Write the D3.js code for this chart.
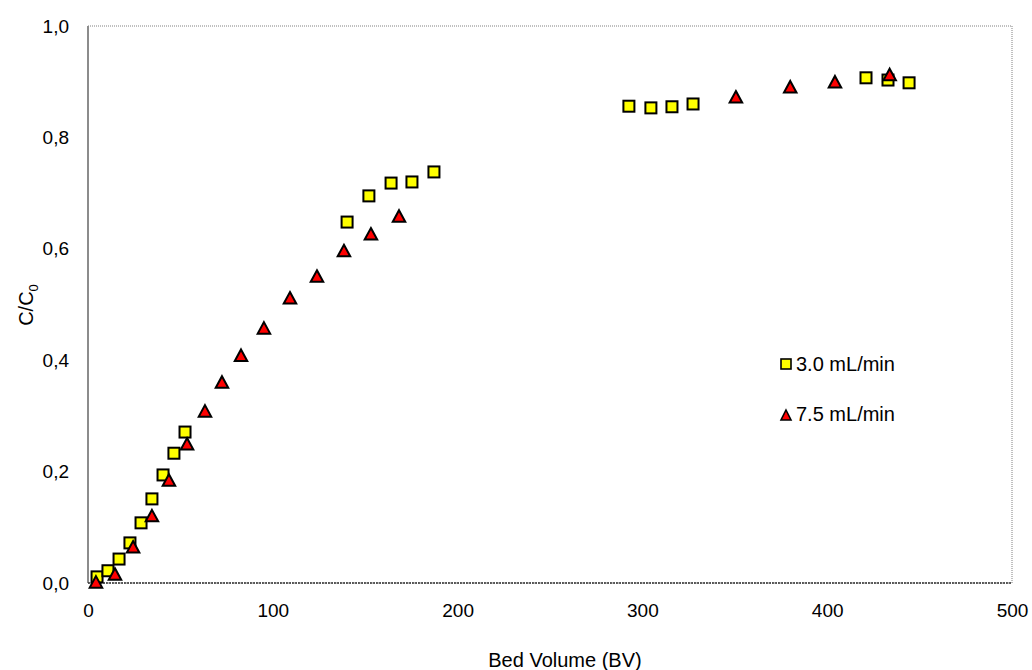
<!DOCTYPE html>
<html>
<head>
<meta charset="utf-8">
<script src="https://cdn.jsdelivr.net/npm/d3@7"></script>
<style>
  body { margin: 0; background: #fff; }
  text { font-family: "Liberation Sans", Arial, sans-serif; fill: #000; }
</style>
</head>
<body>
<svg id="chart"></svg>
<script>
// series 3.0 mL/min (squares)
var bv30 = [4.9, 10.8, 16.8, 22.7, 28.7, 34.6, 40.6, 46.5, 52.5, 140.2, 152, 164, 175.3, 187.2, 292.7, 304.6, 316, 327.4, 421, 432.9, 444.3];
var c30 = [0.011, 0.022, 0.043, 0.072, 0.108, 0.151, 0.194, 0.233, 0.271, 0.648, 0.695, 0.718, 0.720, 0.738, 0.856, 0.853, 0.855, 0.860, 0.907, 0.903, 0.898];
// series 7.5 mL/min (triangles)
var bv75 = [4.3, 14.6, 24.4, 34.6, 43.8, 53.6, 63.3, 72.5, 82.8, 95.2, 109.3, 123.9, 138.5, 153.1, 168.3, 350.6, 380, 404.2, 433.8];
var c75 = [0.002, 0.016, 0.065, 0.121, 0.185, 0.250, 0.309, 0.361, 0.409, 0.458, 0.512, 0.551, 0.597, 0.627, 0.659, 0.873, 0.891, 0.900, 0.913];

var xTicks = [0, 100, 200, 300, 400, 500];
var yTicks = [0, 0.2, 0.4, 0.6, 0.8, 1.0];
var seriesNames = ["3.0 mL/min", "7.5 mL/min"];

var width = 1032, height = 670;
var margin = { top: 26, right: 20, bottom: 87, left: 88 };

var svg = d3.select("#chart")
  .attr("width", width)
  .attr("height", height);

var x = d3.scaleLinear().domain([0, 500]).range([margin.left, width - margin.right]);
var y = d3.scaleLinear().domain([0, 1]).range([height - margin.bottom, margin.top]);

// triangle centred on its bounding box, like the spreadsheet marker
function triangle(w, h) {
  return `M0,${-h / 2}L${w / 2},${h / 2}L${-w / 2},${h / 2}Z`;
}

// plot frame
svg.append("rect")
  .attr("x", x(0)).attr("y", y(1))
  .attr("width", x(500) - x(0)).attr("height", y(0) - y(1))
  .attr("fill", "none")
  .attr("stroke", "#808080")
  .attr("stroke-width", 1)
  .attr("stroke-dasharray", "1,1");

// left axis (solid gray) and bottom axis (dotted dark)
svg.append("line")
  .attr("x1", x(0)).attr("x2", x(0))
  .attr("y1", y(0)).attr("y2", y(1))
  .attr("stroke", "#8c8c8c").attr("stroke-width", 2);
svg.append("line")
  .attr("x1", x(0)).attr("x2", x(500))
  .attr("y1", y(0)).attr("y2", y(0))
  .attr("stroke", "#333").attr("stroke-width", 1.5)
  .attr("stroke-dasharray", "2,1");

var xAxis = svg.append("g")
  .attr("transform", `translate(0, ${y(0)})`)
  .call(d3.axisBottom(x).tickValues(xTicks).tickSize(0).tickPadding(21).tickFormat(d3.format("d")));
xAxis.select(".domain").remove();
xAxis.selectAll("text").style("font-size", "19px").style("font-family", "Liberation Sans, Arial, sans-serif");

var yAxis = svg.append("g")
  .attr("transform", `translate(${x(0)}, 0)`)
  .call(d3.axisLeft(y).tickValues(yTicks).tickSize(0).tickPadding(19)
    .tickFormat(d => d.toFixed(1).replace(".", ",")));
yAxis.select(".domain").remove();
yAxis.selectAll("text").style("font-size", "19px").style("font-family", "Liberation Sans, Arial, sans-serif");

// axis titles
svg.append("text")
  .attr("x", 565)
  .attr("y", 667)
  .attr("text-anchor", "middle")
  .style("font-size", "20px")
  .text("Bed Volume (BV)");

var yTitle = svg.append("text")
  .attr("transform", "translate(33, 305) rotate(-90)")
  .attr("text-anchor", "middle")
  .style("font-size", "20px");
yTitle.append("tspan").text("C/C");
yTitle.append("tspan").attr("dy", 5).style("font-size", "13px").text("0");

// square series
svg.append("g")
  .selectAll("rect")
  .data(d3.range(bv30.length))
  .join("rect")
  .attr("x", i => x(bv30[i]) - 5.5)
  .attr("y", i => y(c30[i]) - 5.5)
  .attr("width", 11)
  .attr("height", 11)
  .attr("fill", "#ffff00")
  .attr("stroke", "#000")
  .attr("stroke-width", 2);

// triangle series
svg.append("g")
  .selectAll("path")
  .data(d3.range(bv75.length))
  .join("path")
  .attr("transform", i => `translate(${x(bv75[i])}, ${y(c75[i])})`)
  .attr("d", triangle(12.5, 11.5))
  .attr("fill", "#ff0000")
  .attr("stroke", "#000")
  .attr("stroke-width", 2)
  .attr("stroke-linejoin", "miter");

// legend
var legend = svg.append("g");
legend.append("rect")
  .attr("x", 781).attr("y", 359).attr("width", 10).attr("height", 10)
  .attr("fill", "#ffff00").attr("stroke", "#000").attr("stroke-width", 1.6);
legend.append("text")
  .attr("x", 796).attr("y", 371)
  .style("font-size", "20px")
  .text(seriesNames[0]);
legend.append("path")
  .attr("transform", "translate(786, 415)")
  .attr("d", triangle(10, 10))
  .attr("fill", "#ff0000").attr("stroke", "#000").attr("stroke-width", 1.6);
legend.append("text")
  .attr("x", 796).attr("y", 421)
  .style("font-size", "20px")
  .text(seriesNames[1]);
</script>
</body>
</html>
